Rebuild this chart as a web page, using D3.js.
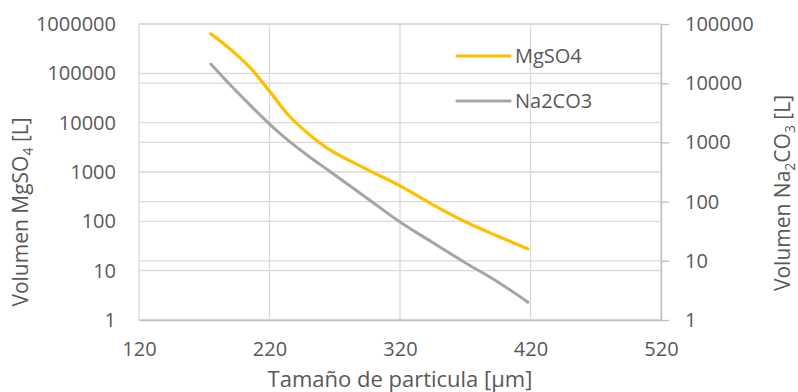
<!DOCTYPE html>
<html>
<head>
<meta charset="utf-8">
<script src="https://cdn.jsdelivr.net/npm/d3@7"></script>
<style>
  body { margin: 0; background: #fff; }
  text { font-family: "Open Sans", sans-serif; fill: #595959; }
  .grid line { stroke: #d9d9d9; stroke-width: 1.3; }
</style>
</head>
<body>
<svg id="chart"></svg>
<script>
// tamaño de particula [µm] y volúmenes
const sizes = [175, 190, 205, 220, 235, 250, 265, 295, 320, 345, 370, 395, 418];
const mgso4 = [631000, 309000, 132000, 43600, 13800, 5890, 2950, 1120, 525, 219, 98, 50, 27.5];
const na2co3 = [21100, 9330, 4310, 2040, 1050, 585, 338, 113, 45.2, 20.4, 9.3, 4.4, 2.0];
const seriesNames = ["MgSO4", "Na2CO3"];
const seriesColors = ["#ffc000", "#a5a5a5"];
const xTicks = [120, 220, 320, 420, 520];
const yLeftTicks = [1, 10, 100, 1000, 10000, 100000, 1000000];
const yRightTicks = [1, 10, 100, 1000, 10000, 100000];

const chartSize = {width: 798, height: 392};
const margin = {left: 139, right: 137, top: 24, bottom: 72};
const width = chartSize.width - margin.left - margin.right;
const height = chartSize.height - margin.top - margin.bottom;

const svg = d3.select("#chart")
  .attr("width", chartSize.width)
  .attr("height", chartSize.height);

const g = svg.append("g")
  .attr("transform", `translate(${margin.left},${margin.top})`);

const x = d3.scaleLinear().domain([120, 520]).range([0, width]);
const yL = d3.scaleLog().domain([1, 1000000]).range([height, 0]);
const yR = d3.scaleLog().domain([1, 100000]).range([height, 0]);

// grid
const grid = g.append("g").attr("class", "grid");
grid.selectAll(".gl").data(yLeftTicks).enter().append("line")
  .attr("x1", 0).attr("x2", width)
  .attr("y1", d => yL(d)).attr("y2", d => yL(d));
grid.selectAll(".gr").data(yRightTicks).enter().append("line")
  .attr("x1", 0).attr("x2", width)
  .attr("y1", d => yR(d)).attr("y2", d => yR(d));
grid.selectAll(".gx").data(xTicks).enter().append("line")
  .attr("x1", d => x(d)).attr("x2", d => x(d))
  .attr("y1", 0).attr("y2", height);

// axes
const xAxis = g.append("g")
  .attr("transform", `translate(0,${height})`)
  .call(d3.axisBottom(x).tickValues(xTicks).tickSize(0).tickPadding(22).tickFormat(d3.format("d")));
xAxis.select(".domain").attr("stroke", "#bfbfbf").attr("stroke-width", 1.3);

const leftAxis = g.append("g")
  .call(d3.axisLeft(yL).tickValues(yLeftTicks).tickSize(0).tickPadding(23).tickFormat(d3.format("d")));
leftAxis.select(".domain").remove();

const rightAxis = g.append("g")
  .attr("transform", `translate(${width},0)`)
  .call(d3.axisRight(yR).tickValues(yRightTicks).tickSize(8).tickSizeOuter(0).tickPadding(16).tickFormat(d3.format("d")));
rightAxis.select(".domain").attr("stroke", "#bfbfbf").attr("stroke-width", 1.3);
rightAxis.selectAll(".tick line").attr("stroke", "#bfbfbf").attr("stroke-width", 1.3);

svg.selectAll(".tick text")
  .attr("font-size", 20)
  .attr("fill", "#595959")
  .attr("font-family", "Open Sans");

// lines
const lineL = d3.line()
  .x((d, i) => x(sizes[i]))
  .y(d => yL(d))
  .curve(d3.curveCatmullRom);
const lineR = d3.line()
  .x((d, i) => x(sizes[i]))
  .y(d => yR(d))
  .curve(d3.curveCatmullRom);

g.append("path")
  .datum(na2co3)
  .attr("fill", "none")
  .attr("stroke", seriesColors[1])
  .attr("stroke-width", 3)
  .attr("stroke-linecap", "round")
  .attr("d", lineR);

g.append("path")
  .datum(mgso4)
  .attr("fill", "none")
  .attr("stroke", seriesColors[0])
  .attr("stroke-width", 3.2)
  .attr("stroke-linecap", "round")
  .attr("d", lineL);

// legend
const legend = svg.append("g");
seriesNames.forEach((name, i) => {
  const ly = 56 + i * 45;
  legend.append("line")
    .attr("x1", 457).attr("x2", 510)
    .attr("y1", ly).attr("y2", ly)
    .attr("stroke", seriesColors[i])
    .attr("stroke-width", 3.2)
    .attr("stroke-linecap", "round");
  legend.append("text")
    .attr("x", 515)
    .attr("y", ly + 7)
    .attr("font-size", 20)
    .text(name);
});

// axis titles
svg.append("text")
  .attr("x", margin.left + width / 2)
  .attr("y", 387)
  .attr("text-anchor", "middle")
  .attr("font-size", 22)
  .text("Tamaño de particula [µm]");

const lt = svg.append("text")
  .attr("transform", "translate(28,212) rotate(-90)")
  .attr("text-anchor", "middle")
  .attr("font-size", 21);
lt.append("tspan").text("Volumen MgSO");
lt.append("tspan").attr("font-size", 14).attr("dy", 5).text("4");
lt.append("tspan").attr("dy", -5).text(" [L]");

const rt = svg.append("text")
  .attr("transform", "translate(790,193) rotate(-90)")
  .attr("text-anchor", "middle")
  .attr("font-size", 21);
rt.append("tspan").text("Volumen Na");
rt.append("tspan").attr("font-size", 14).attr("dy", 5).text("2");
rt.append("tspan").attr("dy", -5).text("CO");
rt.append("tspan").attr("font-size", 14).attr("dy", 5).text("3");
rt.append("tspan").attr("dy", -5).text(" [L]");
</script>
</body>
</html>
